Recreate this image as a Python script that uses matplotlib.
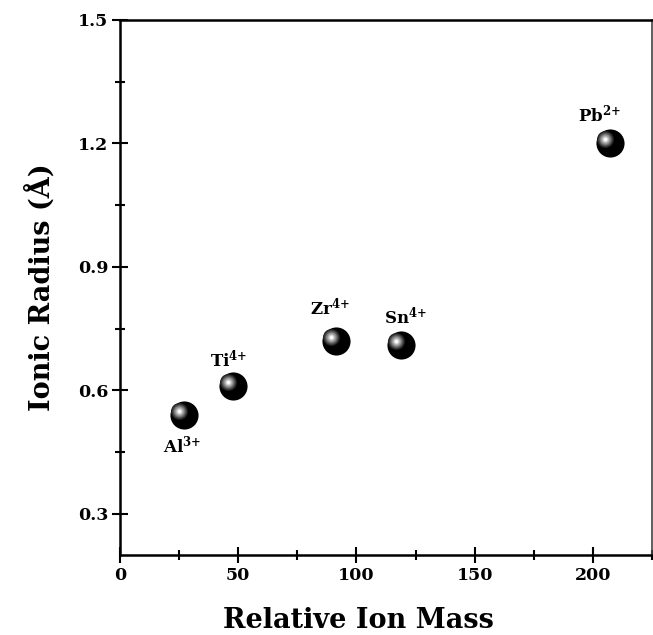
import matplotlib
matplotlib.use("Agg")
import matplotlib.pyplot as plt
from matplotlib.ticker import MultipleLocator, FormatStrFormatter
from matplotlib.transforms import offset_copy

plt.rcParams['font.family'] = ['DejaVu Serif']
plt.rcParams['font.weight'] = 'bold'
plt.rcParams['mathtext.fontset'] = 'dejavuserif'

# Ion data
ions = ['Al', 'Ti', 'Zr', 'Sn', 'Pb']
charges = ['3', '4', '4', '4', '2']
mass = [27.0, 47.9, 91.2, 118.7, 207.2]
radius = [0.54, 0.61, 0.72, 0.71, 1.20]
# label offsets in pixels (dx, dy) relative to each marker
label_off = [(-2, -30), (-5, 27), (-6, 34), (5, 29), (-10, 29)]

fig = plt.figure(figsize=(6.53, 6.35), dpi=100)
ax = fig.add_axes([120 / 653, 1 - 555 / 635, 532 / 653, 535 / 635])

# sphere-like markers: black ball with a soft highlight to the upper left
ax.scatter(mass, radius, s=410, color='black', zorder=3, linewidths=0)
hl = offset_copy(ax.transData, fig=fig, x=-5, y=4, units='dots')
for size, col in [(17, '#202020'), (15, '#3a3a3a'), (13, '#5a5a5a'),
                  (11, '#7c7c7c'), (9, '#9a9a9a'), (7, '#b8b8b8'),
                  (5, '#dcdcdc'), (3, '#ffffff')]:
    d = size * 72 / 100
    ax.scatter(mass, radius, s=d ** 2, color=col, zorder=4, linewidths=0,
               transform=hl)

for name, q, x, y, (dx, dy) in zip(ions, charges, mass, radius, label_off):
    ax.annotate(r'$\mathbf{%s^{%s{+}}}$' % (name, q), (x, y),
                xytext=(dx * 0.72, dy * 0.72), textcoords='offset points',
                ha='center', va='center', fontsize=12)

ax.set_xlim(0, 225)
ax.set_ylim(0.2, 1.5)
ax.xaxis.set_major_locator(MultipleLocator(50))
ax.xaxis.set_minor_locator(MultipleLocator(25))
ax.yaxis.set_major_locator(MultipleLocator(0.3))
ax.yaxis.set_minor_locator(MultipleLocator(0.15))
ax.yaxis.set_major_formatter(FormatStrFormatter('%.1f'))

ax.tick_params(which='major', direction='inout', length=11, width=1.5,
               labelsize=12.5, pad=3, top=False, right=False)
ax.tick_params(which='minor', direction='inout', length=7, width=1.5,
               top=False, right=False)
for lab in ax.get_xticklabels() + ax.get_yticklabels():
    lab.set_fontweight('bold')

for side in ['left', 'bottom', 'top']:
    ax.spines[side].set_linewidth(1.8)
ax.spines['right'].set_linewidth(1.2)
ax.spines['right'].set_color('#444444')

ax.set_xlabel('Relative Ion Mass', fontsize=19.5, fontweight='bold')
ax.xaxis.set_label_coords((358 - 120) / 532, -(620 - 555) / 535)
ax.xaxis.label.set_va('center')
ax.set_ylabel('Ionic Radius (Å)', fontsize=19.5, fontweight='bold')
ax.yaxis.set_label_coords(-(120 - 40) / 532, 0.5)
ax.yaxis.label.set_va('center')

fig.savefig('out.png', dpi=100)
